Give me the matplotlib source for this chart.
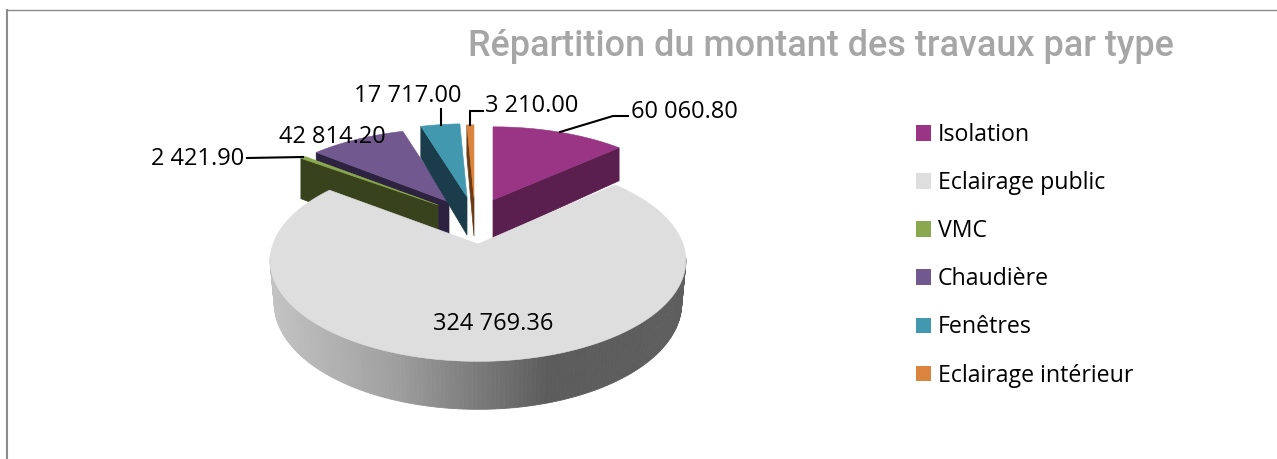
import numpy as np
import matplotlib
matplotlib.use("Agg")
import matplotlib.pyplot as plt
from matplotlib.patches import Polygon, Patch

categories = ["Isolation", "Eclairage public", "VMC", "Chaudière", "Fenêtres", "Eclairage intérieur"]
values = [60060.80, 324769.36, 2421.90, 42814.20, 17717.00, 3210.00]

top_colors = ["#993584", "#dedede", "#8aa84d", "#71588f", "#4198af", "#db843d"]
side_colors = ["#5a1f4e", "#808080", "#38431d", "#2d2340", "#1a3c4b", "#6a3a14"]

# where each exploded slice has its tip, in pixels
tips = [(493, 200), (478, 244), (438, 205), (449, 202), (467, 197), (474, 198)]
# perspective settings (width, height, perspective, depth)
small = (196, 90, 0.23, 38)
big = (205, 98, 0.165, 42)
vmc = (196, 88, 0.23, 46)


def project(theta, tip, p):
    u = np.sin(theta)
    v = -np.cos(theta)
    s = 1 / (1 - p[2] * v)
    return tip[0] + p[0] * u * s, tip[1] + p[1] * v * s, s


def euro(v):
    return f"{v:,.2f}".replace(",", " ")


plt.rcParams["font.family"] = ["Open Sans", "DejaVu Sans"]
fig = plt.figure(figsize=(12.77, 4.59), dpi=100)
ax = fig.add_axes([0, 0, 1, 1])
ax.set_xlim(0, 1277)
ax.set_ylim(459, 0)
ax.axis("off")

# chart frame
ax.plot([7, 7], [459, 10], color="#8c8c8c", lw=1.5)
ax.plot([7, 1277], [10, 10], color="#8c8c8c", lw=1)

edges = np.radians(np.concatenate([[0], np.cumsum(values)]) / np.sum(values) * 360)

for i in [3, 2, 4, 5, 0, 1]:
    a0, a1 = edges[i], edges[i + 1]
    tip = tips[i]
    p = big if i == 1 else vmc if i == 2 else small
    th = np.linspace(a0, a1, 240)
    x, y, s = project(th, tip, p)
    if i == 1:
        # outer side of the big slice, grey shading left to right
        bx = tip[0] + (x - tip[0]) * 0.98
        by = tip[1] + (y - tip[1]) * 0.98 + p[3] * s
        for j in range(len(th) - 1):
            if -np.cos(th[j]) < 0.12:
                continue
            g = np.interp(x[j], [275, 400, 550, 690], [0.76, 0.62, 0.36, 0.37])
            quad = [(x[j], y[j]), (x[j + 1], y[j + 1]), (bx[j + 1], by[j + 1]), (bx[j], by[j])]
            ax.add_patch(Polygon(quad, fc=(g, g, g), ec=(g, g, g), lw=0.6))
    else:
        # the cut face that looks at the viewer
        mid = (a0 + a1) / 2
        edge = a1 if np.sin(mid) > 0 else a0
        ex, ey, es = project(edge, tip, p)
        face = [tip, (ex, ey), (ex, ey + p[3] * es), (tip[0], tip[1] + p[3])]
        ax.add_patch(Polygon(face, fc=side_colors[i], ec=side_colors[i], lw=0.5))
    top = np.column_stack([np.append(x, tip[0]), np.append(y, tip[1])])
    ax.add_patch(Polygon(top, fc=top_colors[i], ec=top_colors[i], lw=0.4))

# leader lines
for lx, ly in [([560, 613, 628], [132, 116, 116]),
               ([247, 303], [158, 157]),
               ([441, 441], [125, 109]),
               ([470, 470, 483], [125, 111, 111])]:
    ax.plot(lx, ly, color="black", lw=1.5, solid_joinstyle="miter")

fs = 17
ax.text(631, 112, euro(values[0]), fontsize=fs, ha="left", va="center")
ax.text(493, 324, euro(values[1]), fontsize=fs, ha="center", va="center")
ax.text(244, 159, euro(values[2]), fontsize=fs, ha="right", va="center")
ax.text(332, 137, euro(values[3]), fontsize=fs, ha="center", va="center")
ax.text(408, 96, euro(values[4]), fontsize=fs, ha="center", va="center")
ax.text(485, 106, euro(values[5]), fontsize=fs, ha="left", va="center")

ax.text(1174, 46, "Répartition du montant des travaux par type", fontsize=25.9, color="#a6a6a6",
        family="Roboto", fontweight="medium", ha="right", va="center")

handles = [Patch(fc=c, ec="none") for c in top_colors]
ax.legend(handles, categories, loc="upper left", bbox_to_anchor=(916 / 1277, 1 - 123 / 459),
          frameon=False, fontsize=16.7, handlelength=0.65, handleheight=0.65,
          handletextpad=0.3, labelspacing=1.04, borderpad=0, borderaxespad=0)

fig.savefig("out.png", dpi=100)
